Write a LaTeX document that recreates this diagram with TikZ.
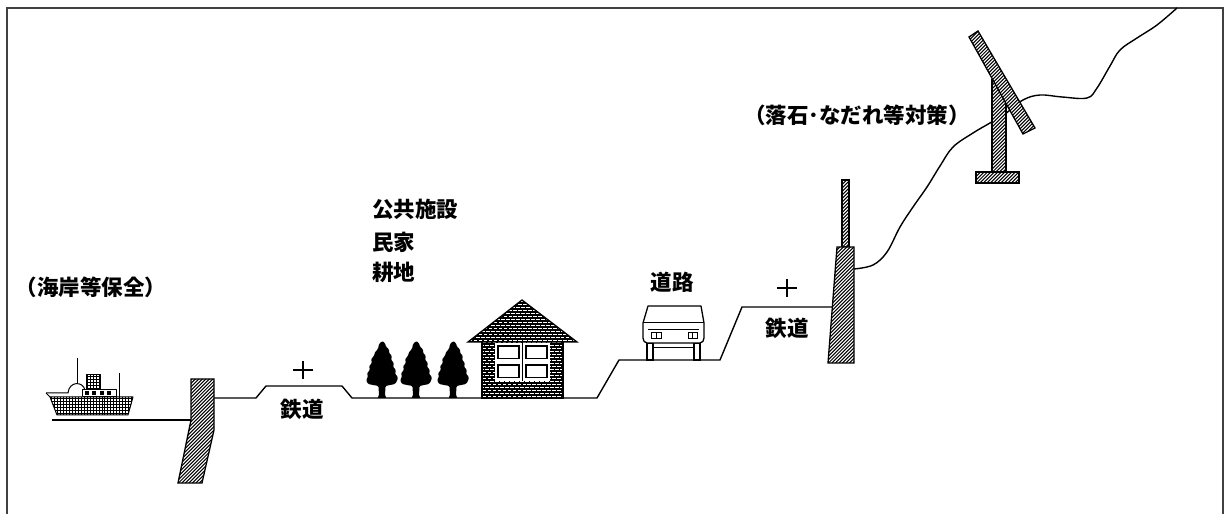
\documentclass[tikz,border=0pt]{standalone}
\usepackage{fontspec}
\newfontfamily\cjk{Noto Sans CJK JP}
\begin{document}
\begin{tikzpicture}[x=1bp,y=-1bp,
  frame/.style={line width=1.5bp, draw=black!75},
  ground/.style={line width=1.4bp, line join=round},
  hatchwall/.style={line width=1.3bp, line join=miter, fill=white, path picture={
    \foreach \k in {0,...,64}
      \draw[line width=1.05bp] ([xshift=\k*3.5pt-150pt]path picture bounding box.south west) -- ++(150pt,150pt);
  }},
  brickfill/.style={line width=1.3bp, line join=miter, fill=white, path picture={
    \foreach \r in {0,...,22}
      \draw[line width=1.6bp] ([yshift=\r*3pt]path picture bounding box.south west) -- ++(200pt,0pt);
    \foreach \c in {0,2,...,46}
      \draw[line width=1.3bp, dash pattern=on 3pt off 3pt] ([xshift=\c*2.5pt]path picture bounding box.south west) -- ++(0pt,72pt);
    \foreach \c in {1,3,...,47}
      \draw[line width=1.3bp, dash pattern=on 3pt off 3pt, dash phase=3pt] ([xshift=\c*2.5pt]path picture bounding box.south west) -- ++(0pt,72pt);
  }},
  gridfill/.style={fill=white, path picture={
    \foreach \r in {0,...,8}
      \draw[line width=0.7bp] ([yshift=\r*3pt+1.5pt]path picture bounding box.south west) -- ++(200pt,0pt);
    \foreach \c in {0,...,40}
      \draw[line width=0.6bp] ([xshift=\c*3pt+1pt]path picture bounding box.south west) -- ++(0pt,30pt);
  }},
  lbl/.style={font={\cjk\bfseries\fontsize{21.5bp}{25bp}\selectfont}, inner sep=0pt},
  shipline/.style={line width=1bp, line join=round},
  conifer/.pic={
    \fill[rounded corners=1.2bp] (0,-57) -- (3,-55) -- (4,-51) -- (7,-49) -- (7,-45) -- (10,-42)
      -- (9,-38) -- (12,-35) -- (11,-31) -- (14,-28) -- (13,-24) -- (16,-21) -- (15,-17)
      -- (13,-14) -- (8,-13) -- (3.5,-12) -- (3,-2) -- (5,0) -- (-5,0) -- (-3,-2) -- (-3.5,-12)
      -- (-9,-13) -- (-14,-14) -- (-16,-18) -- (-14,-21) -- (-15,-25) -- (-12,-28)
      -- (-13,-32) -- (-10,-35) -- (-11,-39) -- (-8,-42) -- (-7,-46) -- (-4,-49)
      -- (-3,-54) -- cycle;
  }
]
\useasboundingbox (0,0) rectangle (1226,514);
% frame (open at the bottom)
\draw[frame] (7,514) -- (7,8) -- (1223,8) -- (1223,514);

% ---------------- ground profile ----------------
\draw[ground] (52,420) -- (191,420);
\draw[ground] (214,398) -- (256,398) -- (266,386) -- (342,386) -- (352,398)
  -- (597,398) -- (619,360) -- (720,360) -- (742,307) -- (832,307);
\draw[ground] plot[smooth, tension=0.6] coordinates {
  (854,269) (873,265) (887,252) (900,227) (913,207) (927,187) (940,166) (953,147)
  (973,133) (990,123) (1005,114) (1023,100) (1040,95) (1062,97) (1087,98)
  (1097,88) (1110,66) (1120,50) (1137,38) (1157,25) (1177,8)};

% ---------------- sea wall ----------------
\draw[hatchwall] (191,379) -- (214,379) -- (214,430) -- (202,483) -- (178,483) -- (191,420) -- cycle;

% ---------------- railway marks ----------------
\draw[line width=1.6bp] (293,370) -- (313,370) (303,361) -- (303,379);
\draw[line width=1.6bp] (777,288) -- (797,288) (787,279) -- (787,297);

% ---------------- ship ----------------
\draw[shipline, gridfill] (50,397) -- (133,397) -- (128,415) -- (57,415) -- cycle;
\draw[shipline] (46,393) -- (68,393) .. controls (69,381) and (83,381) .. (85,390);
\draw[shipline] (46,393) -- (50,397);
\draw[shipline] (77,358) -- (77,383);
\draw[shipline] (119,373) -- (119,397);
\draw[shipline, gridfill] (86,375) rectangle (100,390);
\draw[shipline, fill=white] (82,390) rectangle (116,397);
\foreach \xx in {85,92,100,107} \fill (\xx,391.5) rectangle ++(4,3.5);

% ---------------- trees ----------------
\pic at (382,398) {conifer};
\pic at (416,398) {conifer};
\pic at (453,398) {conifer};

% ---------------- house ----------------
\draw[brickfill] (482,340) rectangle (563,398);
\draw[brickfill] (468,342) -- (522,300) -- (577,342) -- cycle;
\fill[white] (495,343) rectangle (550,381);
\draw[line width=0.8bp] (522.5,343) -- (522.5,381);
\foreach \xa/\ya in {498/346,526/346,498/365,526/365}
  \draw[line width=1.3bp, fill=white] (\xa,\ya) rectangle ++(21,12.5);

% ---------------- car ----------------
\draw[line width=1.2bp, fill=white] (647,343) rectangle (653,360);
\draw[line width=1.2bp, fill=white] (694,343) rectangle (700,360);
\draw[line width=1bp] (653,348) -- (694,348);
\draw[line width=1.3bp, fill=white, line join=round] (648,306) -- (701,306) -- (704,323)
  -- (704,338) to[out=-90,in=0] (700,343) -- (647,343) to[out=180,in=-90] (643,338)
  -- (643,323) -- cycle;
\draw[line width=1bp] (643,323) -- (704,323);
\draw[line width=1bp] (648,330) -- (699,330);
\draw[line width=1bp] (651,333) rectangle (661,339) (656,333) -- (656,339);
\draw[line width=1bp] (688,333) rectangle (697,339) (692,333) -- (692,339);

% ---------------- mountain-side walls ----------------
\draw[hatchwall] (842,180) rectangle (849,247);
\draw[hatchwall] (837,247) -- (854,247) -- (854,363) -- (828,363) -- cycle;
\draw[hatchwall] (992,80) rectangle (1006,172);
\draw[hatchwall] (976,172) rectangle (1019,183);
\draw[hatchwall] (969,37) -- (978,31) -- (1035,128) -- (1023,134) -- cycle;

% ---------------- labels ----------------
\node[lbl] (coast) at (91,287) {（海岸等保全）};
\node[lbl, anchor=west] (pub) at (372,209) {公共施設};
\node[lbl, anchor=west] (house) at (372,242) {民家};
\node[lbl, anchor=west] (farm) at (372,272) {耕地};
\node[lbl] (rail1) at (302,409) {鉄道};
\node[lbl] (road) at (672,282) {道路};
\node[lbl] (rail2) at (787,328) {鉄道};
\node[lbl] (rock) at (857,115) {（落石･なだれ等対策）};
\end{tikzpicture}
\end{document}
